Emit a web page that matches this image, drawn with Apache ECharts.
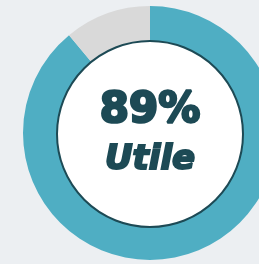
<!DOCTYPE html>
<html>
<head>
<meta charset="utf-8">
<script src="https://cdn.jsdelivr.net/npm/echarts@6/dist/echarts.min.js"></script>
<style>
  html, body { margin: 0; padding: 0; background: #eceff2; }
  #chart { width: 259px; height: 264px; }
</style>
</head>
<body>
<div id="chart"></div>
<script>
var categories = ['Utile', 'Autre'];
var values = [89, 11];
var colors = ['#4faec3', '#d9d9d9'];
var centerLabel = 'Utile';

var chartDom = document.getElementById('chart');
var myChart = echarts.init(chartDom);

var option = {
    backgroundColor: '#eceff2',
    animation: false,
    series: [
        {
            name: 'ring',
            type: 'pie',
            center: [150, 133],
            radius: [92, 127],
            startAngle: 90,
            clockwise: true,
            silent: true,
            label: { show: false },
            labelLine: { show: false },
            data: categories.map(function (c, i) {
                return { name: c, value: values[i], itemStyle: { color: colors[i] } };
            })
        },
        {
            name: 'centre',
            type: 'pie',
            center: [150, 134],
            radius: [0, 93],
            silent: true,
            labelLine: { show: false },
            itemStyle: {
                color: '#ffffff',
                borderColor: '#1d4a55',
                borderWidth: 2
            },
            label: {
                show: true,
                position: 'center',
                formatter: function () {
                    return '{a|' + values[0] + '%}\n{b|' + centerLabel + '}';
                },
                rich: {
                    a: {
                        fontFamily: 'DejaVu Sans',
                        fontWeight: 'bold',
                        fontSize: 42,
                        color: '#1d4a55',
                        textBorderColor: '#1d4a55',
                        textBorderWidth: 2.5,
                        lineHeight: 52
                    },
                    b: {
                        fontFamily: 'DejaVu Sans',
                        fontWeight: 'bold',
                        fontStyle: 'italic',
                        fontSize: 34,
                        color: '#1d4a55',
                        textBorderColor: '#1d4a55',
                        textBorderWidth: 2,
                        lineHeight: 46
                    }
                }
            },
            data: [{ name: centerLabel, value: 1 }]
        }
    ]
};

myChart.setOption(option);
window.addEventListener('resize', function () {
    myChart.resize();
});
</script>
</body>
</html>
